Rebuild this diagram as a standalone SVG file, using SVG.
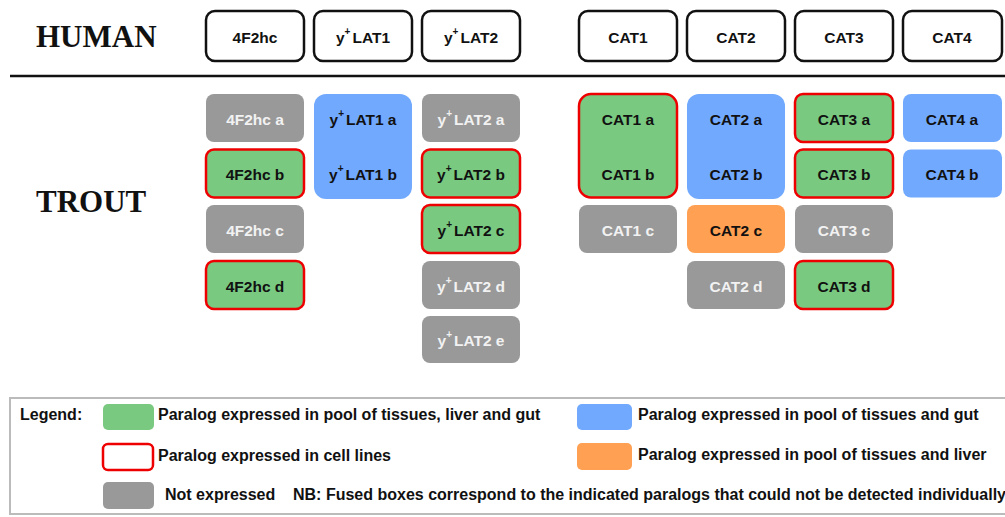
<svg xmlns="http://www.w3.org/2000/svg" width="1005" height="517" viewBox="0 0 1005 517">
<style>
.hb{fill:#fff;stroke:#111;stroke-width:2.5}
.t{font-family:"Liberation Sans",Arial,sans-serif;font-weight:bold;font-size:15.5px;text-anchor:middle}
.dk{fill:#111}
.lt{fill:#f2f2f2}
.g{fill:#999}
.gr{fill:#79C981}
.bl{fill:#71A9FF}
.or{fill:#FFA052}
.rd{stroke:#E00;stroke-width:2.5}
.big{font-family:"Liberation Serif","Times New Roman",serif;font-weight:bold;font-size:31px;fill:#111}
.lg{font-family:"Liberation Sans",Arial,sans-serif;font-weight:bold;font-size:16px;fill:#111}
.sup{font-size:10px}
</style>
<rect width="1005" height="517" fill="#fff"/>
<text class="big" x="36" y="47">HUMAN</text>
<text class="big" x="36" y="212">TROUT</text>
<line x1="10" y1="76" x2="1005" y2="76" stroke="#111" stroke-width="2.5"/>
<g id="human">
<g id="h-4f2hc"><rect class="hb" x="206" y="11" width="98" height="50" rx="9"/><text class="t dk" x="255" y="43">4F2hc</text></g>
<g id="h-ylat1"><rect class="hb" x="314" y="11" width="98" height="50" rx="9"/><text class="t dk" x="363" y="43">y<tspan class="sup" dy="-8">+</tspan><tspan dx="2" dy="8">LAT1</tspan></text></g>
<g id="h-ylat2"><rect class="hb" x="422" y="11" width="98" height="50" rx="9"/><text class="t dk" x="471" y="43">y<tspan class="sup" dy="-8">+</tspan><tspan dx="2" dy="8">LAT2</tspan></text></g>
<g id="h-cat1"><rect class="hb" x="579" y="11" width="98" height="50" rx="9"/><text class="t dk" x="628" y="43">CAT1</text></g>
<g id="h-cat2"><rect class="hb" x="687" y="11" width="98" height="50" rx="9"/><text class="t dk" x="736" y="43">CAT2</text></g>
<g id="h-cat3"><rect class="hb" x="795" y="11" width="98" height="50" rx="9"/><text class="t dk" x="844" y="43">CAT3</text></g>
<g id="h-cat4"><rect class="hb" x="903" y="11" width="99" height="50" rx="9"/><text class="t dk" x="952" y="43">CAT4</text></g>
</g>
<g id="trout">
<g id="t-4f2hc-a"><rect class="g" x="206" y="94" width="98" height="48" rx="8"/><text class="t lt" x="255" y="124.5">4F2hc a</text></g>
<g id="t-4f2hc-b"><rect class="gr rd" x="206" y="149.5" width="98" height="48" rx="8"/><text class="t dk" x="255" y="180">4F2hc b</text></g>
<g id="t-4f2hc-c"><rect class="g" x="206" y="205" width="98" height="48" rx="8"/><text class="t lt" x="255" y="235.5">4F2hc c</text></g>
<g id="t-4f2hc-d"><rect class="gr rd" x="206" y="261" width="98" height="48" rx="8"/><text class="t dk" x="255" y="291.5">4F2hc d</text></g>
<g id="t-ylat1-ab"><rect class="bl" x="314" y="94" width="98" height="105" rx="12"/><text class="t dk" x="363" y="124.5">y<tspan class="sup" dy="-8">+</tspan><tspan dx="2" dy="8">LAT1 a</tspan></text><text class="t dk" x="363" y="180">y<tspan class="sup" dy="-8">+</tspan><tspan dx="2" dy="8">LAT1 b</tspan></text></g>
<g id="t-ylat2-a"><rect class="g" x="422" y="94" width="98" height="48" rx="8"/><text class="t lt" x="471" y="124.5">y<tspan class="sup" dy="-8">+</tspan><tspan dx="2" dy="8">LAT2 a</tspan></text></g>
<g id="t-ylat2-b"><rect class="gr rd" x="422" y="149.5" width="98" height="48" rx="8"/><text class="t dk" x="471" y="180">y<tspan class="sup" dy="-8">+</tspan><tspan dx="2" dy="8">LAT2 b</tspan></text></g>
<g id="t-ylat2-c"><rect class="gr rd" x="422" y="205" width="98" height="48" rx="8"/><text class="t dk" x="471" y="235.5">y<tspan class="sup" dy="-8">+</tspan><tspan dx="2" dy="8">LAT2 c</tspan></text></g>
<g id="t-ylat2-d"><rect class="g" x="422" y="261" width="98" height="48" rx="8"/><text class="t lt" x="471" y="291.5">y<tspan class="sup" dy="-8">+</tspan><tspan dx="2" dy="8">LAT2 d</tspan></text></g>
<g id="t-ylat2-e"><rect class="g" x="422" y="316" width="98" height="47" rx="8"/><text class="t lt" x="471" y="346">y<tspan class="sup" dy="-8">+</tspan><tspan dx="2" dy="8">LAT2 e</tspan></text></g>
<g id="t-cat1-ab"><rect class="gr rd" x="579" y="94" width="98" height="103.5" rx="12"/><text class="t dk" x="628" y="124.5">CAT1 a</text><text class="t dk" x="628" y="180">CAT1 b</text></g>
<g id="t-cat1-c"><rect class="g" x="579" y="205" width="98" height="48" rx="8"/><text class="t lt" x="628" y="235.5">CAT1 c</text></g>
<g id="t-cat2-ab"><rect class="bl" x="687" y="94" width="98" height="105" rx="12"/><text class="t dk" x="736" y="124.5">CAT2 a</text><text class="t dk" x="736" y="180">CAT2 b</text></g>
<g id="t-cat2-c"><rect class="or" x="687" y="205" width="98" height="48" rx="8"/><text class="t dk" x="736" y="235.5">CAT2 c</text></g>
<g id="t-cat2-d"><rect class="g" x="687" y="261" width="98" height="48" rx="8"/><text class="t lt" x="736" y="291.5">CAT2 d</text></g>
<g id="t-cat3-a"><rect class="gr rd" x="795" y="94" width="98" height="48" rx="8"/><text class="t dk" x="844" y="124.5">CAT3 a</text></g>
<g id="t-cat3-b"><rect class="gr rd" x="795" y="149.5" width="98" height="48" rx="8"/><text class="t dk" x="844" y="180">CAT3 b</text></g>
<g id="t-cat3-c"><rect class="g" x="795" y="205" width="98" height="48" rx="8"/><text class="t lt" x="844" y="235.5">CAT3 c</text></g>
<g id="t-cat3-d"><rect class="gr rd" x="795" y="261" width="98" height="48" rx="8"/><text class="t dk" x="844" y="291.5">CAT3 d</text></g>
<g id="t-cat4-a"><rect class="bl" x="903" y="94" width="99" height="48" rx="8"/><text class="t dk" x="952" y="124.5">CAT4 a</text></g>
<g id="t-cat4-b"><rect class="bl" x="903" y="149.5" width="99" height="48" rx="8"/><text class="t dk" x="952" y="180">CAT4 b</text></g>
</g>
<g id="connectors"></g>
<g id="legend">
<rect x="10" y="398" width="1000" height="116" fill="#fff" stroke="#bbb" stroke-width="2"/>
<text class="lg" x="20" y="420">Legend:</text>
<rect class="gr" x="103" y="404" width="51" height="26" rx="5"/>
<text class="lg" x="158" y="420">Paralog expressed in pool of tissues, liver and gut</text>
<rect x="103" y="444" width="50" height="26" rx="5" fill="#fff" class="rd"/>
<text class="lg" x="158" y="461">Paralog expressed in cell lines</text>
<rect class="g" x="103" y="482" width="51" height="27" rx="5"/>
<text class="lg" x="165" y="500">Not expressed</text>
<text class="lg" x="293" y="500">NB: Fused boxes correspond to the indicated paralogs that could not be detected individually</text>
<rect class="bl" x="577" y="404" width="55" height="26" rx="5"/>
<text class="lg" x="638" y="420">Paralog expressed in pool of tissues and gut</text>
<rect class="or" x="577" y="443" width="55" height="27" rx="5"/>
<text class="lg" x="638" y="460">Paralog expressed in pool of tissues and liver</text>
</g>
</svg>
